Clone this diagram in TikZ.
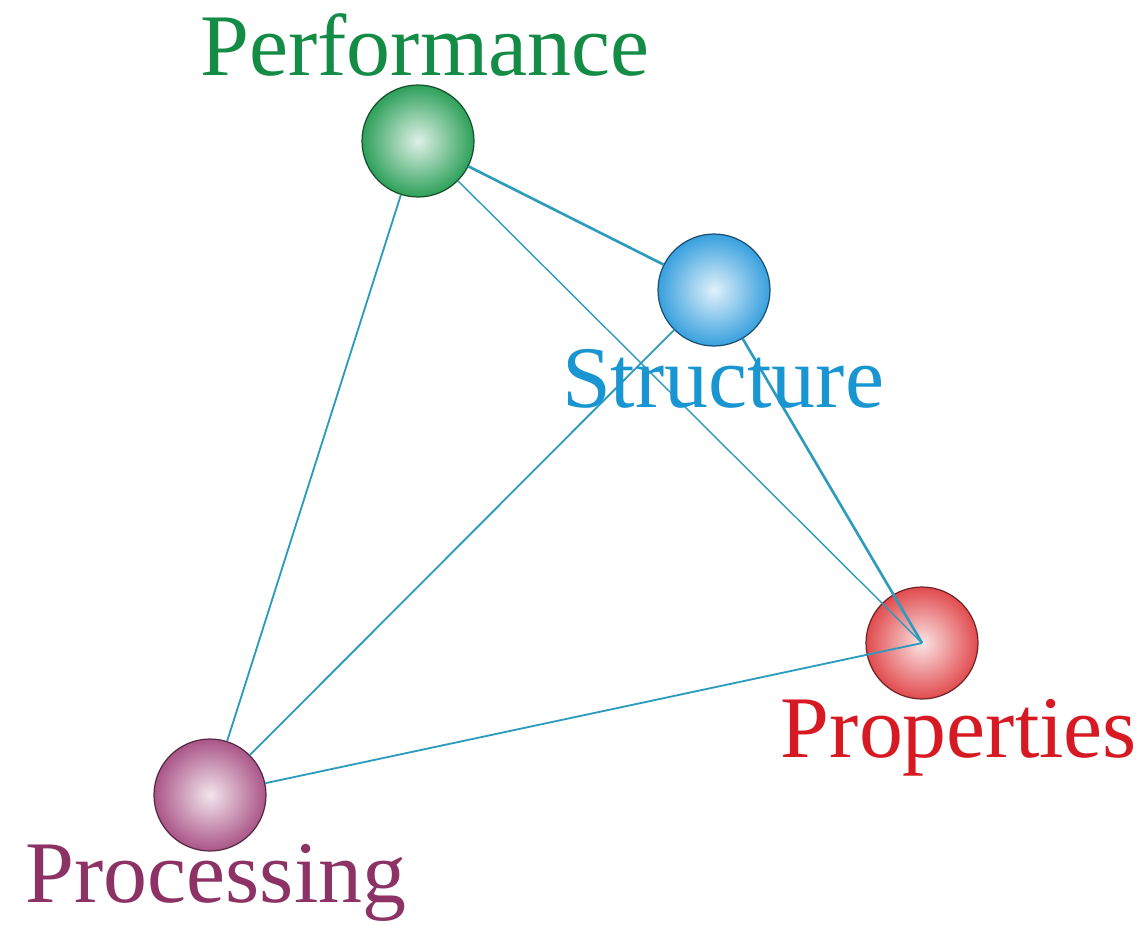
\documentclass[tikz,border=0pt]{standalone}
\usepackage{fontspec}
\setmainfont{Liberation Serif}
\definecolor{perfgreen}{RGB}{20,140,70}
\definecolor{structblue}{RGB}{25,150,210}
\definecolor{propred}{RGB}{215,25,35}
\definecolor{procpurple}{RGB}{140,50,100}
\definecolor{ballgreen}{RGB}{45,160,90}
\definecolor{ballblue}{RGB}{55,160,222}
\definecolor{ballred}{RGB}{225,75,78}
\definecolor{ballpurple}{RGB}{170,85,135}
\definecolor{linkcol}{RGB}{45,155,188}
\tikzset{
  ball/.style={circle, minimum size=2.24cm, inner sep=0pt, draw=#1!50!black, line width=0.7pt, inner color=white!85!#1, outer color=#1},
  link/.style={draw=linkcol, line width=1.05pt},
  caption/.style={anchor=base, font=\fontsize{50}{60}\selectfont, inner sep=0pt}
}

\begin{document}
\begin{tikzpicture}[x=0.02cm, y=-0.02cm]
\useasboundingbox (0,0) rectangle (1145,924);
\node [ball=ballgreen] (perf) at (418,141) {};
\node [ball=ballblue] (struct) at (714,290) {};
\node [ball=ballred] (prop) at (922,643) {};
\node [ball=ballpurple] (proc) at (210,795) {};
\draw [link, line width=1.5pt] (perf) -- (struct);
\draw [link] (perf) -- (proc);
\draw [link, line width=0.8pt] (perf) -- (prop.center);
\draw [link, line width=1.5pt] (struct) -- (prop.center);
\draw [link] (struct) -- (proc);
\draw [link] (proc) -- (prop.center);
\node [caption, text=perfgreen] (perflabel) at (425,75) {Performance};
\node [caption, text=structblue] (structlabel) at (723,407) {Structure};
\node [caption, text=propred] (proplabel) at (959,757) {Properties};
\node [caption, text=procpurple] (proclabel) at (216,902) {Processing};
\end{tikzpicture}
\end{document}
